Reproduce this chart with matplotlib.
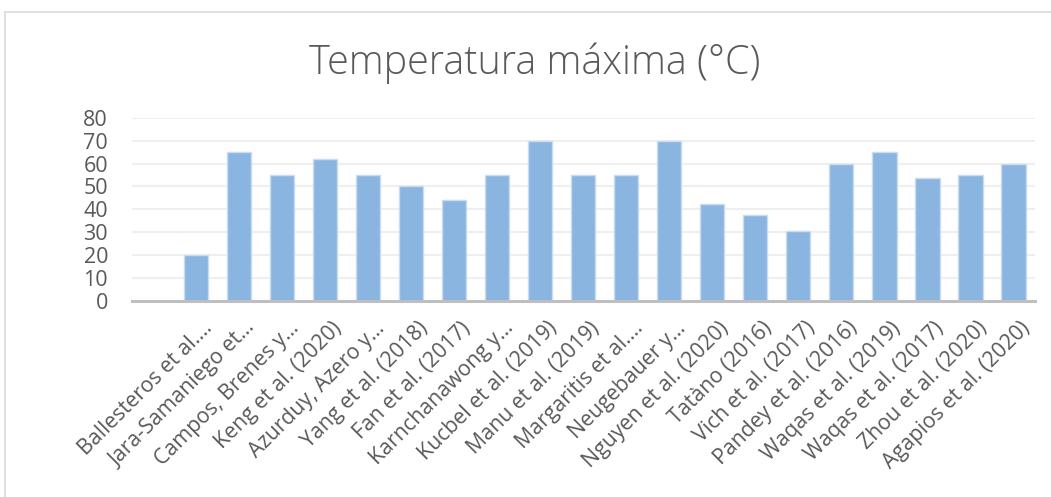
import matplotlib
matplotlib.use("Agg")
import matplotlib.pyplot as plt
import matplotlib.transforms as mtransforms
from matplotlib.patches import Rectangle

# estudios (first slot in the chart is empty)
estudios = ["", "Ballesteros et al.…", "Jara-Samaniego et…", "Campos, Brenes y…",
            "Keng et al. (2020)", "Azurduy, Azero y…", "Yang et al. (2018)",
            "Fan et al. (2017)", "Karnchanawong y…", "Kucbel et al. (2019)",
            "Manu et al. (2019)", "Margaritis et al.…", "Neugebauer y…",
            "Nguyen et al. (2020)", "Tatàno (2016)", "Vich et al. (2017)",
            "Pandey et al. (2016)", "Waqas et al. (2019)", "Waqas et al. (2017)",
            "Zhou et al. (2020)", "Agapios et al. (2020)"]
temp_max = [0, 20, 65, 55, 62, 55, 50, 44, 55, 70, 55, 55, 70, 42.5, 37.5, 30.5,
            60, 65, 53.5, 55, 60]
yticks = [0, 10, 20, 30, 40, 50, 60, 70, 80]

plt.rcParams["font.family"] = ["Open Sans", "DejaVu Sans"]
gris = "#595959"

fig = plt.figure(figsize=(10.51, 4.97), dpi=100)
ax = fig.add_axes([0.1253, 0.3944, 0.9848 - 0.1253, 0.7632 - 0.3944])

x = list(range(len(estudios)))
ax.bar(x[1:], temp_max[1:], width=0.56, color="#8AB5E0", edgecolor="#C9DDF2",
       linewidth=1, zorder=3)

ax.set_xlim(-0.5, len(estudios) - 0.5)
ax.set_ylim(0, 80)
ax.set_yticks(yticks)
ax.set_yticklabels([str(v) for v in yticks], fontsize=15.5, color=gris)
ax.yaxis.grid(True, color="#EFEFEF", linewidth=1.5, zorder=0)
ax.tick_params(axis="y", length=0, pad=17)
ax.tick_params(axis="x", length=0, pad=12)

for s in ["top", "right", "left"]:
    ax.spines[s].set_visible(False)
ax.spines["bottom"].set_color("#BFBFBF")
ax.spines["bottom"].set_linewidth(2.2)
ax.spines["bottom"].set_zorder(4)

ax.set_xticks(x)
off = mtransforms.ScaledTranslation(6 / 100, 0, fig.dpi_scale_trans)
labels = ax.set_xticklabels(estudios, rotation=45, ha="right", va="top",
                            rotation_mode="anchor", fontsize=15.3, color=gris)
for lb in labels:
    lb.set_transform(lb.get_transform() + off)

fig.text(0.509, 0.872, "Temperatura máxima (°C)", ha="center", va="center",
         fontsize=28.5, color=gris, fontweight="light")

# chart frame like in the office chart
fig.patches.append(Rectangle((5 / 1051, -0.1), 1.2, 1 - 12 / 497 + 0.1,
                             transform=fig.transFigure, fill=False,
                             edgecolor="#D9D9D9", linewidth=1.2))

fig.savefig("out.png", dpi=100)
